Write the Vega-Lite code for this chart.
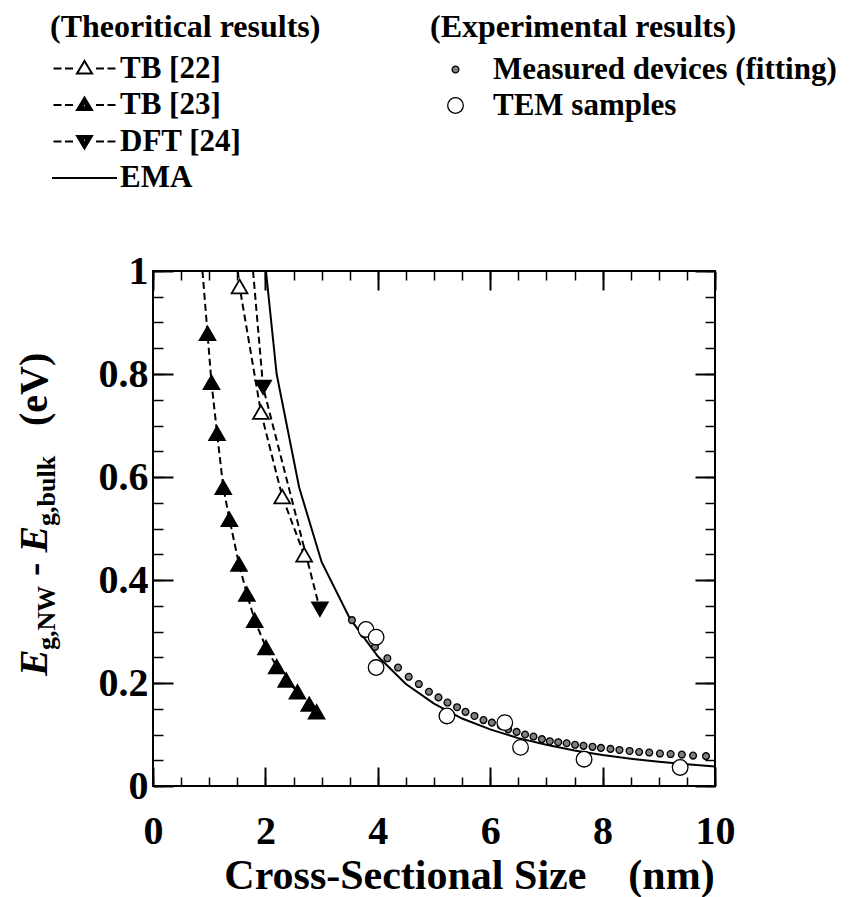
{
  "$schema": "https://vega.github.io/schema/vega-lite/v6.json",
  "width": 562,
  "height": 515,
  "autosize": {"type": "none"},
  "padding": {"left": 153, "top": 271, "right": 144, "bottom": 111},
  "background": "white",
  "config": {
    "font": "Liberation Serif",
    "view": {"stroke": "black", "strokeWidth": 2},
    "axis": {
      "domain": false,
      "grid": false,
      "tickColor": "black",
      "labelFont": "Liberation Serif",
      "labelFontSize": 40,
      "labelFontWeight": "bold",
      "labelColor": "black",
      "labelOverlap": false,
      "labelFlush": false,
      "format": "~r"
    },
    "legend": {
      "titleFont": "Liberation Serif",
      "titleFontSize": 32,
      "titleFontWeight": "bold",
      "titleColor": "black",
      "labelFont": "Liberation Serif",
      "labelFontSize": 31,
      "labelFontWeight": "bold",
      "labelColor": "black",
      "labelLimit": 0,
      "titleLimit": 0,
      "padding": 0,
      "symbolOpacity": 1
    }
  },
  "datasets": {
    "curves": [
      {"series": "TB [22]", "size": 1.51, "gap": 1.0},
      {"series": "TB [22]", "size": 1.54, "gap": 0.970},
      {"series": "TB [22]", "size": 1.92, "gap": 0.726},
      {"series": "TB [22]", "size": 2.30, "gap": 0.562},
      {"series": "TB [22]", "size": 2.69, "gap": 0.449},
      {"series": "TB [23]", "size": 0.88, "gap": 1.0},
      {"series": "TB [23]", "size": 0.97, "gap": 0.879},
      {"series": "TB [23]", "size": 1.04, "gap": 0.784},
      {"series": "TB [23]", "size": 1.14, "gap": 0.685},
      {"series": "TB [23]", "size": 1.25, "gap": 0.580},
      {"series": "TB [23]", "size": 1.36, "gap": 0.518},
      {"series": "TB [23]", "size": 1.53, "gap": 0.431},
      {"series": "TB [23]", "size": 1.67, "gap": 0.373},
      {"series": "TB [23]", "size": 1.81, "gap": 0.322},
      {"series": "TB [23]", "size": 2.01, "gap": 0.269},
      {"series": "TB [23]", "size": 2.20, "gap": 0.232},
      {"series": "TB [23]", "size": 2.37, "gap": 0.206},
      {"series": "TB [23]", "size": 2.57, "gap": 0.183},
      {"series": "TB [23]", "size": 2.78, "gap": 0.159},
      {"series": "TB [23]", "size": 2.91, "gap": 0.144},
      {"series": "DFT [24]", "size": 1.78, "gap": 1.0},
      {"series": "DFT [24]", "size": 1.96, "gap": 0.774},
      {"series": "DFT [24]", "size": 2.97, "gap": 0.343},
      {"series": "EMA", "size": 2.01, "gap": 1.0},
      {"series": "EMA", "size": 2.2, "gap": 0.80},
      {"series": "EMA", "size": 2.6, "gap": 0.58},
      {"series": "EMA", "size": 3.0, "gap": 0.435},
      {"series": "EMA", "size": 3.5, "gap": 0.326},
      {"series": "EMA", "size": 4.0, "gap": 0.252},
      {"series": "EMA", "size": 4.5, "gap": 0.198},
      {"series": "EMA", "size": 5.0, "gap": 0.160},
      {"series": "EMA", "size": 5.5, "gap": 0.131},
      {"series": "EMA", "size": 6.0, "gap": 0.110},
      {"series": "EMA", "size": 6.5, "gap": 0.093},
      {"series": "EMA", "size": 7.0, "gap": 0.080},
      {"series": "EMA", "size": 7.5, "gap": 0.069},
      {"series": "EMA", "size": 8.0, "gap": 0.060},
      {"series": "EMA", "size": 8.5, "gap": 0.053},
      {"series": "EMA", "size": 9.0, "gap": 0.047},
      {"series": "EMA", "size": 9.5, "gap": 0.042},
      {"series": "EMA", "size": 10.0, "gap": 0.038}
    ],
    "theory": [
      {"series": "TB [22]", "size": 1.54, "gap": 0.970},
      {"series": "TB [22]", "size": 1.92, "gap": 0.726},
      {"series": "TB [22]", "size": 2.30, "gap": 0.562},
      {"series": "TB [22]", "size": 2.69, "gap": 0.449},
      {"series": "TB [23]", "size": 0.97, "gap": 0.879},
      {"series": "TB [23]", "size": 1.04, "gap": 0.784},
      {"series": "TB [23]", "size": 1.14, "gap": 0.685},
      {"series": "TB [23]", "size": 1.25, "gap": 0.580},
      {"series": "TB [23]", "size": 1.36, "gap": 0.518},
      {"series": "TB [23]", "size": 1.53, "gap": 0.431},
      {"series": "TB [23]", "size": 1.67, "gap": 0.373},
      {"series": "TB [23]", "size": 1.81, "gap": 0.322},
      {"series": "TB [23]", "size": 2.01, "gap": 0.269},
      {"series": "TB [23]", "size": 2.20, "gap": 0.232},
      {"series": "TB [23]", "size": 2.37, "gap": 0.206},
      {"series": "TB [23]", "size": 2.57, "gap": 0.183},
      {"series": "TB [23]", "size": 2.78, "gap": 0.159},
      {"series": "TB [23]", "size": 2.91, "gap": 0.144},
      {"series": "DFT [24]", "size": 1.96, "gap": 0.774},
      {"series": "DFT [24]", "size": 2.97, "gap": 0.343}
    ],
    "experiment": [
      {"kind": "Measured devices (fitting)", "size": 3.54, "gap": 0.322},
      {"kind": "Measured devices (fitting)", "size": 3.75, "gap": 0.295},
      {"kind": "Measured devices (fitting)", "size": 3.95, "gap": 0.270},
      {"kind": "Measured devices (fitting)", "size": 4.17, "gap": 0.248},
      {"kind": "Measured devices (fitting)", "size": 4.36, "gap": 0.230},
      {"kind": "Measured devices (fitting)", "size": 4.55, "gap": 0.212},
      {"kind": "Measured devices (fitting)", "size": 4.73, "gap": 0.198},
      {"kind": "Measured devices (fitting)", "size": 4.91, "gap": 0.183},
      {"kind": "Measured devices (fitting)", "size": 5.08, "gap": 0.172},
      {"kind": "Measured devices (fitting)", "size": 5.24, "gap": 0.162},
      {"kind": "Measured devices (fitting)", "size": 5.41, "gap": 0.153},
      {"kind": "Measured devices (fitting)", "size": 5.56, "gap": 0.144},
      {"kind": "Measured devices (fitting)", "size": 5.72, "gap": 0.136},
      {"kind": "Measured devices (fitting)", "size": 5.88, "gap": 0.128},
      {"kind": "Measured devices (fitting)", "size": 6.03, "gap": 0.123},
      {"kind": "Measured devices (fitting)", "size": 6.19, "gap": 0.117},
      {"kind": "Measured devices (fitting)", "size": 6.32, "gap": 0.110},
      {"kind": "Measured devices (fitting)", "size": 6.47, "gap": 0.105},
      {"kind": "Measured devices (fitting)", "size": 6.62, "gap": 0.100},
      {"kind": "Measured devices (fitting)", "size": 6.77, "gap": 0.096},
      {"kind": "Measured devices (fitting)", "size": 6.92, "gap": 0.091},
      {"kind": "Measured devices (fitting)", "size": 7.06, "gap": 0.087},
      {"kind": "Measured devices (fitting)", "size": 7.21, "gap": 0.085},
      {"kind": "Measured devices (fitting)", "size": 7.36, "gap": 0.083},
      {"kind": "Measured devices (fitting)", "size": 7.51, "gap": 0.080},
      {"kind": "Measured devices (fitting)", "size": 7.66, "gap": 0.078},
      {"kind": "Measured devices (fitting)", "size": 7.82, "gap": 0.076},
      {"kind": "Measured devices (fitting)", "size": 7.97, "gap": 0.074},
      {"kind": "Measured devices (fitting)", "size": 8.14, "gap": 0.072},
      {"kind": "Measured devices (fitting)", "size": 8.30, "gap": 0.070},
      {"kind": "Measured devices (fitting)", "size": 8.48, "gap": 0.068},
      {"kind": "Measured devices (fitting)", "size": 8.65, "gap": 0.066},
      {"kind": "Measured devices (fitting)", "size": 8.83, "gap": 0.065},
      {"kind": "Measured devices (fitting)", "size": 9.02, "gap": 0.063},
      {"kind": "Measured devices (fitting)", "size": 9.21, "gap": 0.062},
      {"kind": "Measured devices (fitting)", "size": 9.41, "gap": 0.061},
      {"kind": "Measured devices (fitting)", "size": 9.61, "gap": 0.059},
      {"kind": "Measured devices (fitting)", "size": 9.84, "gap": 0.058},
      {"kind": "TEM samples", "size": 3.79, "gap": 0.304},
      {"kind": "TEM samples", "size": 3.97, "gap": 0.289},
      {"kind": "TEM samples", "size": 3.97, "gap": 0.230},
      {"kind": "TEM samples", "size": 5.23, "gap": 0.136},
      {"kind": "TEM samples", "size": 6.26, "gap": 0.123},
      {"kind": "TEM samples", "size": 6.54, "gap": 0.075},
      {"kind": "TEM samples", "size": 7.67, "gap": 0.052},
      {"kind": "TEM samples", "size": 9.38, "gap": 0.036}
    ]
  },
  "layer": [
    {
      "data": {"name": "curves"},
      "transform": [{"filter": "datum.series !== 'EMA'"}],
      "mark": {"type": "line", "stroke": "black", "strokeWidth": 2, "strokeDash": [7, 4]},
      "encoding": {
        "x": {
          "field": "size", "type": "quantitative",
          "scale": {"domain": [0, 10], "nice": false, "zero": false},
          "axis": {
            "orient": "bottom", "values": [0, 2, 4, 6, 8, 10],
            "tickSize": -19, "tickWidth": 2, "labelPadding": 44,
            "title": "Cross-Sectional Size\u00a0\u00a0\u00a0\u00a0(nm)",
            "titleFont": "Liberation Serif", "titleFontSize": 42, "titleFontWeight": "bold", "titleColor": "black",
            "titleX": 316, "titleY": 102, "titleAlign": "center", "titleBaseline": "alphabetic", "titleAngle": 0
          }
        },
        "y": {
          "field": "gap", "type": "quantitative",
          "scale": {"domain": [0, 1], "nice": false, "zero": false},
          "axis": {
            "orient": "left", "values": [0, 0.2, 0.4, 0.6, 0.8, 1],
            "tickSize": -20, "tickWidth": 2, "labelPadding": 25, "title": null
          }
        },
        "detail": {"field": "series", "type": "nominal"}
      }
    },
    {
      "data": {"name": "curves"},
      "transform": [{"filter": "datum.series === 'EMA'"}],
      "mark": {"type": "line", "stroke": "black", "strokeWidth": 2},
      "encoding": {
        "x": {"field": "size", "type": "quantitative", "scale": {"domain": [0, 10], "nice": false, "zero": false}, "axis": null},
        "y": {"field": "gap", "type": "quantitative", "scale": {"domain": [0, 1], "nice": false, "zero": false}, "axis": null}
      }
    },
    {
      "data": {"name": "theory"},
      "transform": [{"filter": "datum.series === 'TB [22]'"}],
      "mark": {"type": "point", "shape": "triangle-up", "filled": true, "fill": "white", "stroke": "black", "strokeWidth": 1.8, "opacity": 1, "size": 250},
      "encoding": {
        "x": {
          "field": "size", "type": "quantitative",
          "scale": {"domain": [0, 10], "nice": false, "zero": false},
          "axis": {
            "orient": "bottom",
            "values": [0, 0.5, 1, 1.5, 2, 2.5, 3, 3.5, 4, 4.5, 5, 5.5, 6, 6.5, 7, 7.5, 8, 8.5, 9, 9.5, 10],
            "tickSize": -9, "tickWidth": 1.5, "labels": false, "title": null
          }
        },
        "y": {
          "field": "gap", "type": "quantitative",
          "scale": {"domain": [0, 1], "nice": false, "zero": false},
          "axis": {
            "orient": "left",
            "values": [0, 0.05, 0.1, 0.15, 0.2, 0.25, 0.3, 0.35, 0.4, 0.45, 0.5, 0.55, 0.6, 0.65, 0.7, 0.75, 0.8, 0.85, 0.9, 0.95, 1],
            "tickSize": -10, "tickWidth": 1.5, "labels": false, "title": null
          }
        }
      }
    },
    {
      "data": {"name": "theory"},
      "transform": [{"filter": "datum.series === 'TB [23]'"}],
      "mark": {"type": "point", "shape": "triangle-up", "filled": true, "fill": "black", "stroke": "black", "strokeWidth": 1.5, "opacity": 1, "size": 260},
      "encoding": {
        "x": {"field": "size", "type": "quantitative", "scale": {"domain": [0, 10], "nice": false, "zero": false}, "axis": null},
        "y": {"field": "gap", "type": "quantitative", "scale": {"domain": [0, 1], "nice": false, "zero": false}, "axis": null}
      }
    },
    {
      "data": {"name": "theory"},
      "transform": [{"filter": "datum.series === 'DFT [24]'"}],
      "mark": {"type": "point", "shape": "triangle-down", "filled": true, "fill": "black", "stroke": "black", "strokeWidth": 1.5, "opacity": 1, "size": 260},
      "encoding": {
        "x": {"field": "size", "type": "quantitative", "scale": {"domain": [0, 10], "nice": false, "zero": false}, "axis": null},
        "y": {"field": "gap", "type": "quantitative", "scale": {"domain": [0, 1], "nice": false, "zero": false}, "axis": null}
      }
    },
    {
      "data": {"name": "experiment"},
      "mark": {"type": "point", "filled": true, "stroke": "black", "strokeWidth": 1.3, "opacity": 1, "size": 400},
      "encoding": {
        "x": {
          "field": "size", "type": "quantitative",
          "scale": {"domain": [0, 10], "nice": false, "zero": false},
          "axis": {
            "orient": "top", "values": [0, 2, 4, 6, 8, 10],
            "tickSize": -19, "tickWidth": 2, "labels": false, "title": null
          }
        },
        "y": {
          "field": "gap", "type": "quantitative",
          "scale": {"domain": [0, 1], "nice": false, "zero": false},
          "axis": {
            "orient": "right", "values": [0, 0.2, 0.4, 0.6, 0.8, 1],
            "tickSize": -20, "tickWidth": 2, "labels": false, "title": null
          }
        },
        "fill": {
          "field": "kind", "type": "nominal",
          "scale": {"domain": ["Measured devices (fitting)", "TEM samples"], "range": ["#7f7f7f", "white"]},
          "legend": {
            "title": "(Experimental results)",
            "orient": "none", "legendX": 277, "legendY": -259,
            "symbolSize": 400, "symbolStrokeWidth": 1.3,
            "symbolOffset": 10, "labelOffset": 22,
            "rowPadding": 4, "titlePadding": 10
          }
        },
        "shape": {
          "field": "kind", "type": "nominal",
          "scale": {
            "domain": ["Measured devices (fitting)", "TEM samples"],
            "range": [
              "M0.34,0C0.34,0.188 0.188,0.34 0,0.34C-0.188,0.34 -0.34,0.188 -0.34,0C-0.34,-0.188 -0.188,-0.34 0,-0.34C0.188,-0.34 0.34,-0.188 0.34,0Z",
              "M0.78,0C0.78,0.431 0.431,0.78 0,0.78C-0.431,0.78 -0.78,0.431 -0.78,0C-0.78,-0.431 -0.431,-0.78 0,-0.78C0.431,-0.78 0.78,-0.431 0.78,0Z"
            ]
          },
          "legend": {
            "title": "(Experimental results)",
            "orient": "none", "legendX": 277, "legendY": -259,
            "symbolSize": 400, "symbolStrokeWidth": 1.3,
            "symbolOffset": 10, "labelOffset": 22,
            "rowPadding": 4, "titlePadding": 10
          }
        }
      }
    },
    {
      "data": {"name": "curves"},
      "transform": [{"filter": "false"}],
      "mark": {"type": "point", "filled": true, "fill": "white", "stroke": "black", "strokeWidth": 2, "opacity": 1, "size": 400},
      "encoding": {
        "x": {
          "field": "size", "type": "quantitative",
          "scale": {"domain": [0, 10], "nice": false, "zero": false},
          "axis": {
            "orient": "top",
            "values": [0, 0.5, 1, 1.5, 2, 2.5, 3, 3.5, 4, 4.5, 5, 5.5, 6, 6.5, 7, 7.5, 8, 8.5, 9, 9.5, 10],
            "tickSize": -9, "tickWidth": 1.5, "labels": false, "title": null
          }
        },
        "y": {
          "field": "gap", "type": "quantitative",
          "scale": {"domain": [0, 1], "nice": false, "zero": false},
          "axis": {
            "orient": "right",
            "values": [0, 0.05, 0.1, 0.15, 0.2, 0.25, 0.3, 0.35, 0.4, 0.45, 0.5, 0.55, 0.6, 0.65, 0.7, 0.75, 0.8, 0.85, 0.9, 0.95, 1],
            "tickSize": -10, "tickWidth": 1.5, "labels": false, "title": null
          }
        },
        "shape": {
          "field": "series", "type": "nominal",
          "scale": {
            "domain": ["TB [22]", "TB [23]", "DFT [24]", "EMA"],
            "range": [
              "M-3.1,0H-2.3M-1.95,0H-1.15M1.15,0H1.95M2.3,0H3.1M0,-0.75L0.75,0.5L-0.75,0.5Z",
              "M-3.1,0H-2.3M-1.95,0H-1.15M1.15,0H1.95M2.3,0H3.1M0,-0.75L0.75,0.5L-0.75,0.5ZM0,-0.467L0.495,0.358L-0.495,0.358ZM0,-0.192L0.248,0.221L-0.248,0.221Z",
              "M-3.1,0H-2.3M-1.95,0H-1.15M1.15,0H1.95M2.3,0H3.1M0,0.7L0.75,-0.55L-0.75,-0.55ZM0,0.417L0.495,-0.408L-0.495,-0.408ZM0,0.142L0.248,-0.271L-0.248,-0.271Z",
              "M-3.25,0H3.25"
            ]
          },
          "legend": {
            "title": "(Theoritical results)",
            "orient": "none", "legendX": -103, "legendY": -259,
            "symbolSize": 400, "symbolStrokeWidth": 2,
            "symbolOffset": 19, "labelOffset": 20,
            "rowPadding": 4.5, "titlePadding": 9
          }
        }
      }
    },
    {
      "data": {"values": [{}]},
      "mark": {"type": "text", "text": "E", "angle": 270, "align": "left", "baseline": "alphabetic", "font": "Liberation Serif", "fontSize": 40, "fontWeight": "bold", "fontStyle": "italic", "fill": "black"},
      "encoding": {
        "x": {"datum": -1.886, "type": "quantitative", "scale": {"domain": [0, 10], "nice": false, "zero": false}, "axis": null},
        "y": {"datum": 0.2136, "type": "quantitative", "scale": {"domain": [0, 1], "nice": false, "zero": false}, "axis": null}
      }
    },
    {
      "data": {"values": [{}]},
      "mark": {"type": "text", "text": "g,NW", "angle": 270, "align": "left", "baseline": "alphabetic", "font": "Liberation Serif", "fontSize": 26, "fontWeight": "bold", "fill": "black"},
      "encoding": {
        "x": {"datum": -1.744, "type": "quantitative", "scale": {"domain": [0, 10], "nice": false, "zero": false}, "axis": null},
        "y": {"datum": 0.2641, "type": "quantitative", "scale": {"domain": [0, 1], "nice": false, "zero": false}, "axis": null}
      }
    },
    {
      "data": {"values": [{}]},
      "mark": {"type": "text", "text": "-", "angle": 270, "align": "left", "baseline": "alphabetic", "font": "Liberation Serif", "fontSize": 40, "fontWeight": "bold", "fill": "black"},
      "encoding": {
        "x": {"datum": -1.886, "type": "quantitative", "scale": {"domain": [0, 10], "nice": false, "zero": false}, "axis": null},
        "y": {"datum": 0.408, "type": "quantitative", "scale": {"domain": [0, 1], "nice": false, "zero": false}, "axis": null}
      }
    },
    {
      "data": {"values": [{}]},
      "mark": {"type": "text", "text": "E", "angle": 270, "align": "left", "baseline": "alphabetic", "font": "Liberation Serif", "fontSize": 40, "fontWeight": "bold", "fontStyle": "italic", "fill": "black"},
      "encoding": {
        "x": {"datum": -1.886, "type": "quantitative", "scale": {"domain": [0, 10], "nice": false, "zero": false}, "axis": null},
        "y": {"datum": 0.4536, "type": "quantitative", "scale": {"domain": [0, 1], "nice": false, "zero": false}, "axis": null}
      }
    },
    {
      "data": {"values": [{}]},
      "mark": {"type": "text", "text": "g,bulk", "angle": 270, "align": "left", "baseline": "alphabetic", "font": "Liberation Serif", "fontSize": 26, "fontWeight": "bold", "fill": "black"},
      "encoding": {
        "x": {"datum": -1.744, "type": "quantitative", "scale": {"domain": [0, 10], "nice": false, "zero": false}, "axis": null},
        "y": {"datum": 0.5049, "type": "quantitative", "scale": {"domain": [0, 1], "nice": false, "zero": false}, "axis": null}
      }
    },
    {
      "data": {"values": [{}]},
      "mark": {"type": "text", "text": "(eV)", "angle": 270, "align": "left", "baseline": "alphabetic", "font": "Liberation Serif", "fontSize": 40, "fontWeight": "bold", "fill": "black"},
      "encoding": {
        "x": {"datum": -1.886, "type": "quantitative", "scale": {"domain": [0, 10], "nice": false, "zero": false}, "axis": null},
        "y": {"datum": 0.699, "type": "quantitative", "scale": {"domain": [0, 1], "nice": false, "zero": false}, "axis": null}
      }
    }
  ],
  "resolve": {
    "axis": {"x": "independent", "y": "independent"},
    "scale": {"shape": "independent", "fill": "independent"}
  }
}
